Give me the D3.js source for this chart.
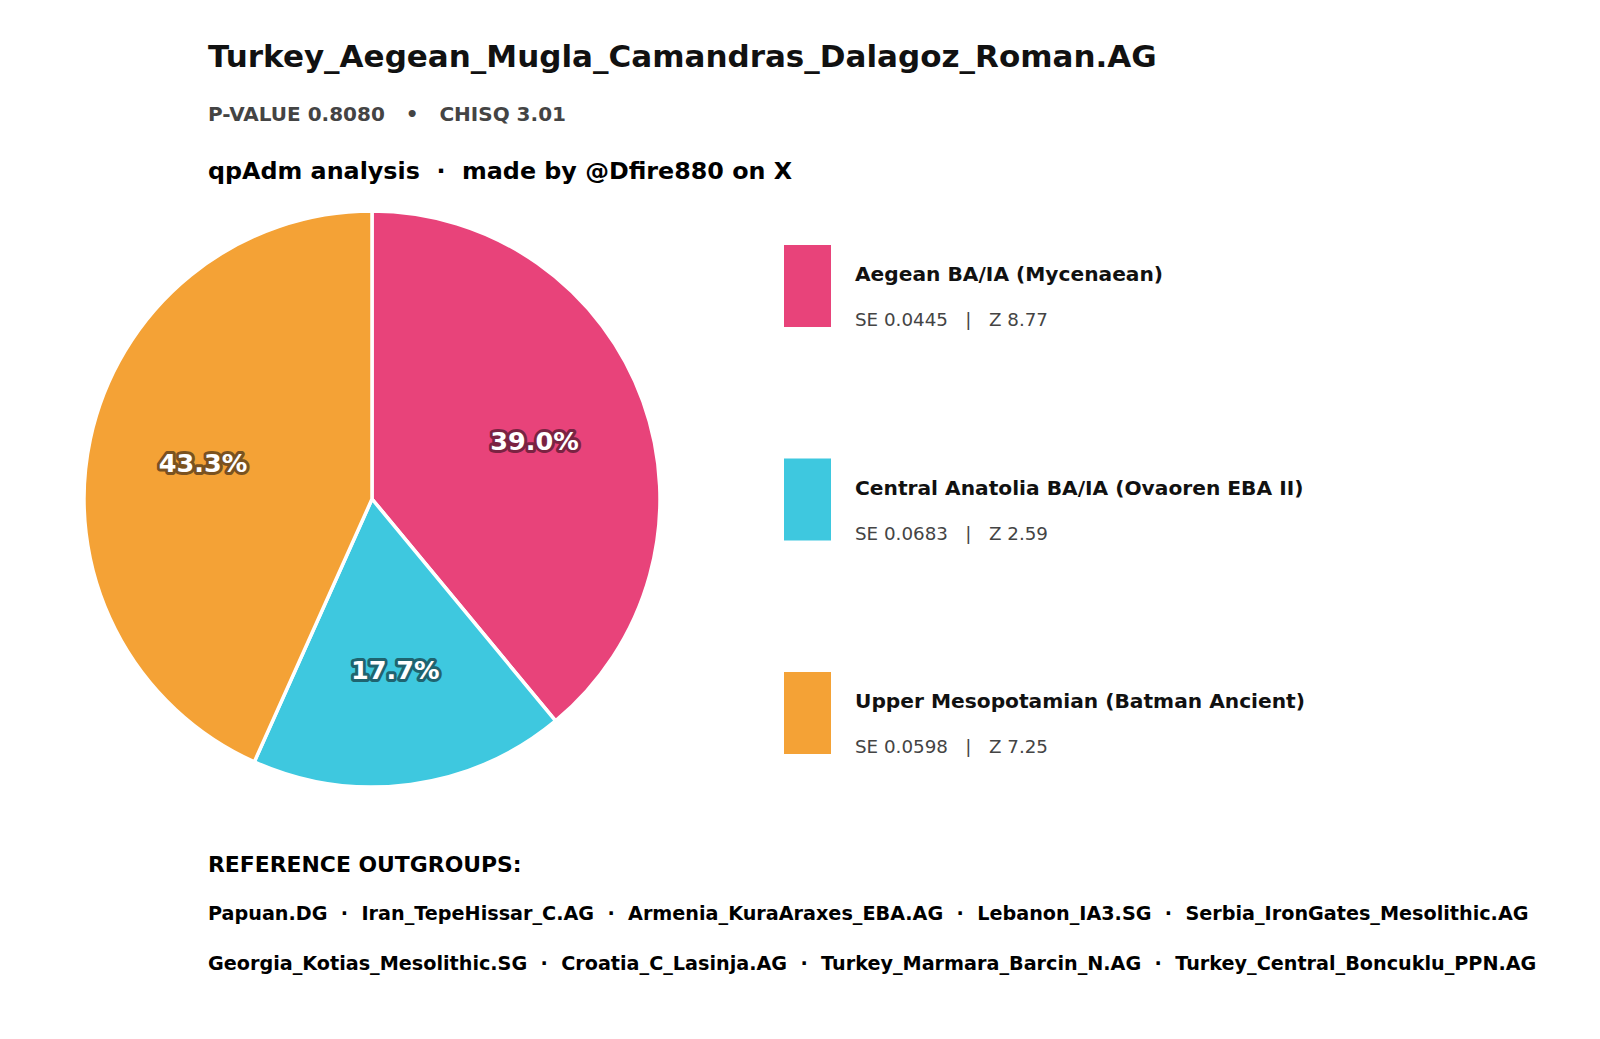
<!DOCTYPE html>
<html>
<head>
<meta charset="utf-8">
<script src="https://cdn.jsdelivr.net/npm/d3@7"></script>
<style>
  body { margin: 0; background: #fff; }
  svg { display: block; font-family: "DejaVu Sans", sans-serif; }
</style>
</head>
<body>
<svg id="chart"></svg>
<script>
const title = "Turkey_Aegean_Mugla_Camandras_Dalagoz_Roman.AG";
const stats = "P-VALUE 0.8080   \u2022   CHISQ 3.01";
const credit = "qpAdm analysis  \u00b7  made by @Dfire880 on X";

const sources = ["Aegean BA/IA (Mycenaean)", "Central Anatolia BA/IA (Ovaoren EBA II)", "Upper Mesopotamian (Batman Ancient)"];
const shares = [39.0, 17.7, 43.3];
const stdErr = ["0.0445", "0.0683", "0.0598"];
const zScores = ["8.77", "2.59", "7.25"];
const colors = ["#e8437a", "#3ec8df", "#f4a236"];
const edgeColors = ["#7a2342", "#1f6470", "#7a5220"];

const outgroupLines = [
  ["Papuan.DG", "Iran_TepeHissar_C.AG", "Armenia_KuraAraxes_EBA.AG", "Lebanon_IA3.SG", "Serbia_IronGates_Mesolithic.AG"],
  ["Georgia_Kotias_Mesolithic.SG", "Croatia_C_Lasinja.AG", "Turkey_Marmara_Barcin_N.AG", "Turkey_Central_Boncuklu_PPN.AG"]
];

const width = 1600, height = 1039;
const svg = d3.select("#chart").attr("width", width).attr("height", height);

// header
svg.append("text")
  .attr("x", 208).attr("y", 67)
  .style("font-size", "31px").style("font-weight", "bold").style("fill", "#111")
  .text(title);

svg.append("text")
  .attr("x", 208).attr("y", 121)
  .style("font-size", "20px").style("font-weight", "bold").style("fill", "#444")
  .style("white-space", "pre")
  .text(stats);

svg.append("text")
  .attr("x", 208).attr("y", 179)
  .style("font-size", "23.8px").style("font-weight", "bold").style("fill", "#000")
  .style("white-space", "pre")
  .text(credit);

// pie
const cx = 372, cy = 499, radius = 288;
const pie = d3.pie().sort(null).value(d => d)(shares);
const arc = d3.arc().innerRadius(0).outerRadius(radius);
const labelArc = d3.arc().innerRadius(radius * 0.6).outerRadius(radius * 0.6);

const g = svg.append("g").attr("transform", `translate(${cx},${cy})`);

g.selectAll("path.slice")
  .data(pie)
  .join("path")
  .attr("class", "slice")
  .attr("d", arc)
  .attr("fill", (d, i) => colors[i])
  .attr("stroke", "#fff")
  .attr("stroke-width", 3.5)
  .attr("stroke-linejoin", "round");

const pct = g.selectAll("g.pct")
  .data(pie)
  .join("g")
  .attr("class", "pct")
  .attr("transform", d => `translate(${labelArc.centroid(d)})`);

pct.append("text")
  .attr("text-anchor", "middle").attr("dy", "0.36em")
  .style("font-size", "25.5px").style("font-weight", "bold")
  .attr("fill", "none")
  .attr("stroke", (d, i) => edgeColors[i])
  .attr("stroke-width", 6).attr("stroke-linejoin", "round")
  .text(d => d.data.toFixed(1) + "%");

pct.append("text")
  .attr("text-anchor", "middle").attr("dy", "0.36em")
  .style("font-size", "25.5px").style("font-weight", "bold")
  .attr("fill", "#fff")
  .text(d => d.data.toFixed(1) + "%");

// legend
const legendY = d3.scalePoint().domain(d3.range(sources.length)).range([245, 672]);

const item = svg.selectAll("g.legend")
  .data(sources)
  .join("g")
  .attr("class", "legend")
  .attr("transform", (d, i) => `translate(784,${legendY(i)})`);

item.append("rect")
  .attr("width", 47).attr("height", 82)
  .attr("fill", (d, i) => colors[i]);

item.append("text")
  .attr("x", 71).attr("y", 36)
  .style("font-size", "20.2px").style("font-weight", "bold").style("fill", "#111")
  .text(d => d);

item.append("text")
  .attr("x", 71).attr("y", 81)
  .style("font-size", "18.3px").style("fill", "#444")
  .style("white-space", "pre")
  .text((d, i) => `SE ${stdErr[i]}   |   Z ${zScores[i]}`);

// outgroups
svg.append("text")
  .attr("x", 208).attr("y", 872)
  .style("font-size", "21.9px").style("font-weight", "bold").style("fill", "#000")
  .text("REFERENCE OUTGROUPS:");

svg.selectAll("text.outgroup")
  .data(outgroupLines)
  .join("text")
  .attr("class", "outgroup")
  .attr("x", 208).attr("y", (d, i) => 920 + i * 50)
  .style("font-size", "19.2px").style("font-weight", "bold").style("fill", "#000")
  .style("white-space", "pre")
  .text(d => d.join("  \u00b7  "));
</script>
</body>
</html>
